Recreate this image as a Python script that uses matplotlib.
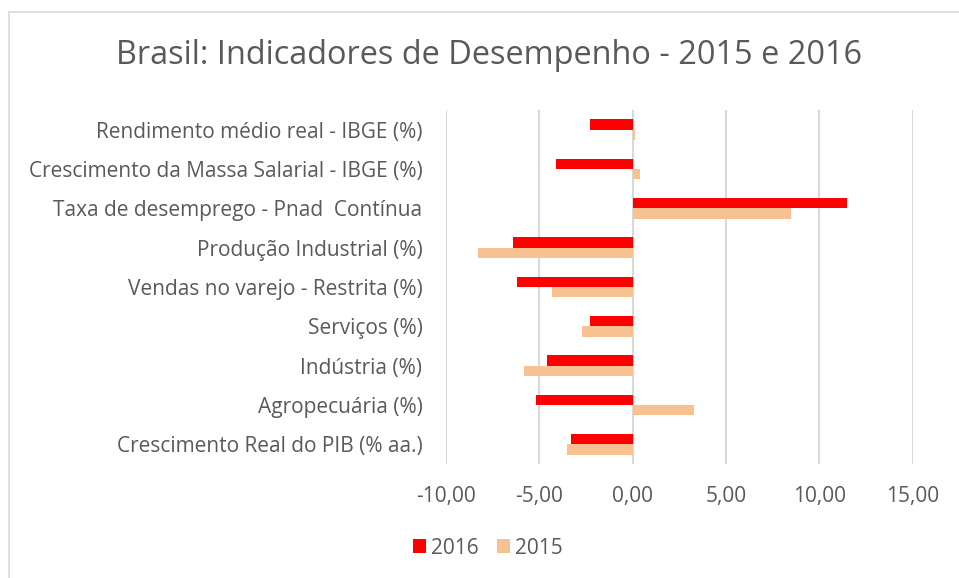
import matplotlib.pyplot as plt
import numpy as np
from matplotlib.patches import Rectangle
from matplotlib.ticker import FuncFormatter

plt.rcParams['font.family'] = ['Open Sans', 'DejaVu Sans']

# categories, bottom to top as they appear on the chart
categories = [
    "Crescimento Real do PIB (% aa.)",
    "Agropecuária (%)",
    "Indústria (%)",
    "Serviços (%)",
    "Vendas no varejo - Restrita (%)",
    "Produção Industrial (%)",
    "Taxa de desemprego - Pnad  Contínua",
    "Crescimento da Massa Salarial - IBGE (%)",
    "Rendimento médio real - IBGE (%)",
]
values_2016 = [-3.3, -5.2, -4.6, -2.3, -6.2, -6.4, 11.5, -4.1, -2.3]
values_2015 = [-3.5, 3.3, -5.8, -2.7, -4.3, -8.3, 8.5, 0.4, 0.1]
x_ticks = [-10, -5, 0, 5, 10, 15]

text_grey = '#595959'
red = '#FF0000'
orange = '#F8C191'

W, H = 959, 578
fig = plt.figure(figsize=(W / 100, H / 100), dpi=100)
ax = fig.add_axes([446 / W, 1 - 464 / H, (912.7 - 446) / W, (464 - 110) / H])

# chart area border (partly cropped at right and bottom)
fig.patches.append(Rectangle((8.5 / W, -0.1), 1.2, 1 - 11.5 / H + 0.1,
                             transform=fig.transFigure, fill=False,
                             edgecolor='#D9D9D9', linewidth=1.2))

y = np.arange(len(categories))
h = 0.26
ax.barh(y + h / 2, values_2016, height=h, color=red, label='2016', zorder=3)
ax.barh(y - h / 2, values_2015, height=h, color=orange, label='2015', zorder=3)

ax.set_xlim(-10, 15)
ax.set_ylim(-0.5, len(categories) - 0.5)
ax.set_xticks(x_ticks)
ax.xaxis.set_major_formatter(FuncFormatter(lambda v, p: f"{v:.2f}".replace('.', ',')))
ax.set_yticks(y)
ax.set_yticklabels(categories)
ax.tick_params(axis='y', length=0, pad=17, labelsize=15, labelcolor=text_grey)
ax.tick_params(axis='x', length=0, pad=16, labelsize=15, labelcolor=text_grey)
ax.grid(axis='x', color='#D9D9D9', linewidth=1.5, zorder=0)
for s in ax.spines.values():
    s.set_visible(False)

fig.text(489.5 / W, 1 - 55 / H, "Brasil: Indicadores de Desempenho - 2015 e 2016",
         ha='center', va='center', fontsize=23.4, color=text_grey)

fig.legend(loc='center', bbox_to_anchor=(488 / W, 1 - 548 / H), ncol=2, frameon=False,
           fontsize=15, labelcolor=text_grey, handlelength=0.61, handleheight=0.61,
           handletextpad=0.25, columnspacing=0.9)

fig.savefig('out.png', dpi=100)
